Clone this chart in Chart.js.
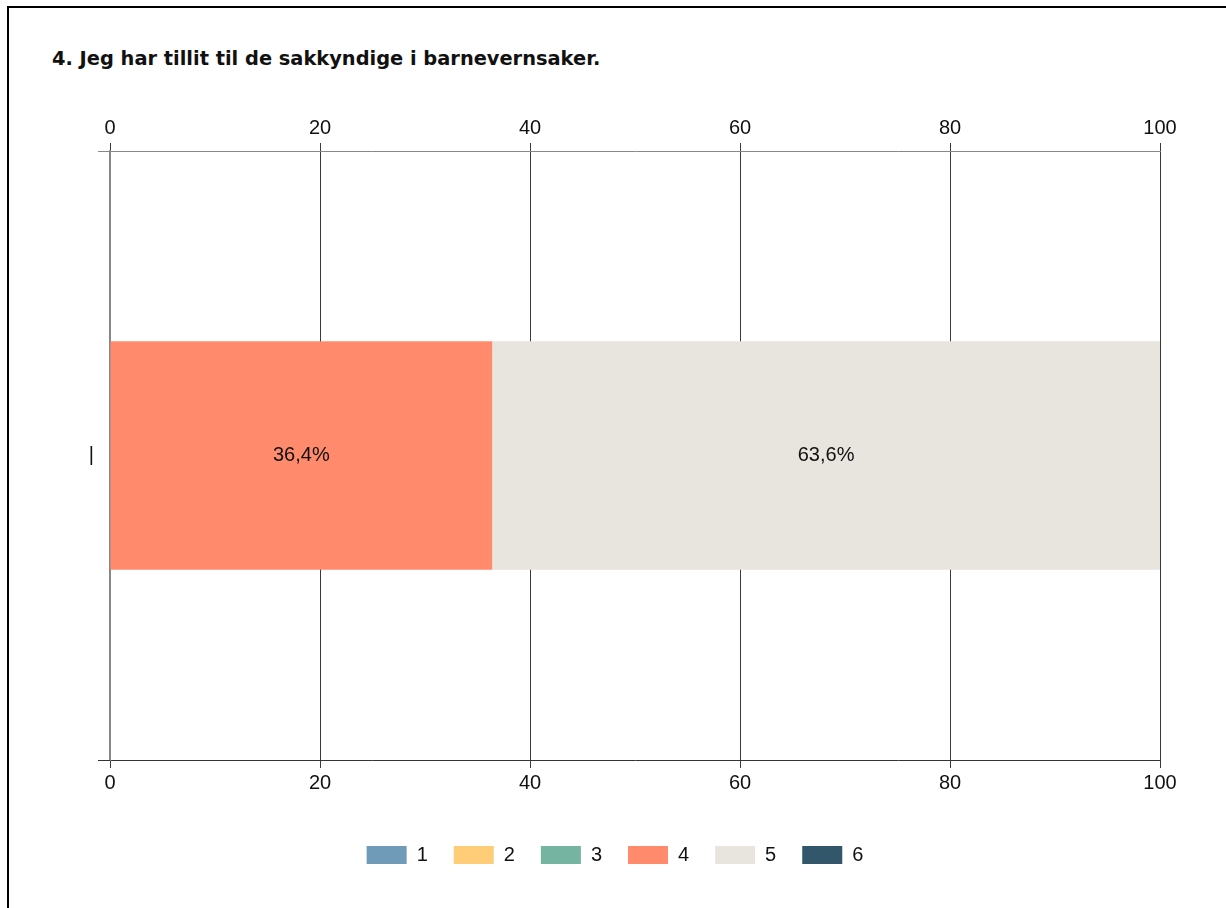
<!DOCTYPE html>
<html>
<head>
<meta charset="utf-8">
<script src="https://cdn.jsdelivr.net/npm/chart.js@4"></script>
<style>
  html, body { margin: 0; padding: 0; background: #fff; overflow: hidden; }
  body { width: 1226px; height: 908px; position: relative; }
  #frame {
    position: absolute; left: 7px; top: 6px; width: 1400px; height: 1100px;
    border-left: 2px solid #000; border-top: 2px solid #000;
  }
  #title {
    position: absolute; left: 52px; top: 47px;
    font-family: "DejaVu Sans", sans-serif; font-weight: bold; font-size: 19.4px;
    color: #111; white-space: nowrap;
  }
  #wrap { position: absolute; left: 0; top: 0; width: 1226px; height: 908px; }
</style>
</head>
<body>
<div id="frame"></div>
<div id="title">4. Jeg har tillit til de sakkyndige i barnevernsaker.</div>
<div id="wrap"><canvas id="chart"></canvas></div>
<script>
// answer categories and their share (%) for the single question row
const categories = ['|'];
const seriesNames = ['1', '2', '3', '4', '5', '6'];
const seriesValues = [
  [0],
  [0],
  [0],
  [36.4],
  [63.6],
  [0]
];
const seriesColors = ['#6f9ab8', '#ffcc77', '#74b4a0', '#ff8a6c', '#e8e5de', '#32576a'];
const xTicks = [0, 20, 40, 60, 80, 100];

const font = "'Liberation Sans', Arial, sans-serif";

// percentage labels inside the bars
const barLabels = {
  id: 'barLabels',
  afterDatasetsDraw(chart) {
    const ctx = chart.ctx;
    ctx.save();
    ctx.font = '20px ' + font;
    ctx.fillStyle = '#111';
    ctx.textAlign = 'center';
    ctx.textBaseline = 'middle';
    chart.data.datasets.forEach((ds, i) => {
      const meta = chart.getDatasetMeta(i);
      meta.data.forEach((bar, j) => {
        const v = ds.data[j];
        if (!v) return;
        const c = bar.getCenterPoint();
        ctx.fillText(v.toFixed(1).replace('.', ',') + '%', c.x, c.y);
      });
    });
    ctx.restore();
  }
};

// the axis lines reach out over the left tick area
const axisStubs = {
  id: 'axisStubs',
  afterDraw(chart) {
    const ctx = chart.ctx;
    const a = chart.chartArea;
    ctx.save();
    ctx.lineWidth = 1;
    ctx.strokeStyle = '#888';
    ctx.beginPath();
    ctx.moveTo(a.left - 12, a.top + 0.5);
    ctx.lineTo(a.left, a.top + 0.5);
    ctx.stroke();
    ctx.strokeStyle = '#333';
    ctx.beginPath();
    ctx.moveTo(a.left - 12, a.bottom + 0.5);
    ctx.lineTo(a.left, a.bottom + 0.5);
    ctx.stroke();
    ctx.restore();
  }
};

const xAxis = (pos, onArea, borderColor) => ({
  type: 'linear',
  position: pos,
  min: 0,
  max: 100,
  stacked: true,
  afterBuildTicks: s => { s.ticks = xTicks.map(v => ({ value: v })); },
  afterFit: s => { s.height = pos === 'top' ? 50 : 59; },
  grid: {
    display: true,
    drawOnChartArea: onArea,
    color: c => (c.tick && c.tick.value === 0 ? '#888' : '#3a3a3a'),
    lineWidth: 1,
    tickLength: 8,
    tickColor: '#3a3a3a'
  },
  border: { display: true, color: borderColor, width: 1 },
  ticks: { color: '#111', font: { family: font, size: 20 }, padding: 3, maxRotation: 0 }
});

new Chart(document.getElementById('chart'), {
  type: 'bar',
  data: {
    labels: categories,
    datasets: seriesNames.map((name, i) => ({
      label: name,
      data: seriesValues[i],
      backgroundColor: seriesColors[i],
      borderWidth: 0,
      categoryPercentage: 0.375,
      barPercentage: 1
    }))
  },
  options: {
    indexAxis: 'y',
    responsive: true,
    maintainAspectRatio: false,
    animation: false,
    layout: { padding: { left: 70, right: 66, top: 101, bottom: 33 } },
    scales: {
      x: xAxis('top', true, '#888'),
      x2: xAxis('bottom', false, '#333'),
      y: {
        stacked: true,
        afterFit: s => { s.width = 40; },
        grid: { display: true, drawOnChartArea: false, tickLength: 12, color: '#444' },
        border: { display: true, color: '#888', width: 2 },
        ticks: { color: '#111', font: { family: font, size: 20 }, padding: 4 }
      }
    },
    plugins: {
      legend: {
        position: 'bottom',
        labels: {
          boxWidth: 40,
          boxHeight: 18,
          padding: 26,
          color: '#111',
          font: { family: font, size: 20 }
        }
      },
      tooltip: { enabled: false }
    }
  },
  plugins: [barLabels, axisStubs]
});
</script>
</body>
</html>
